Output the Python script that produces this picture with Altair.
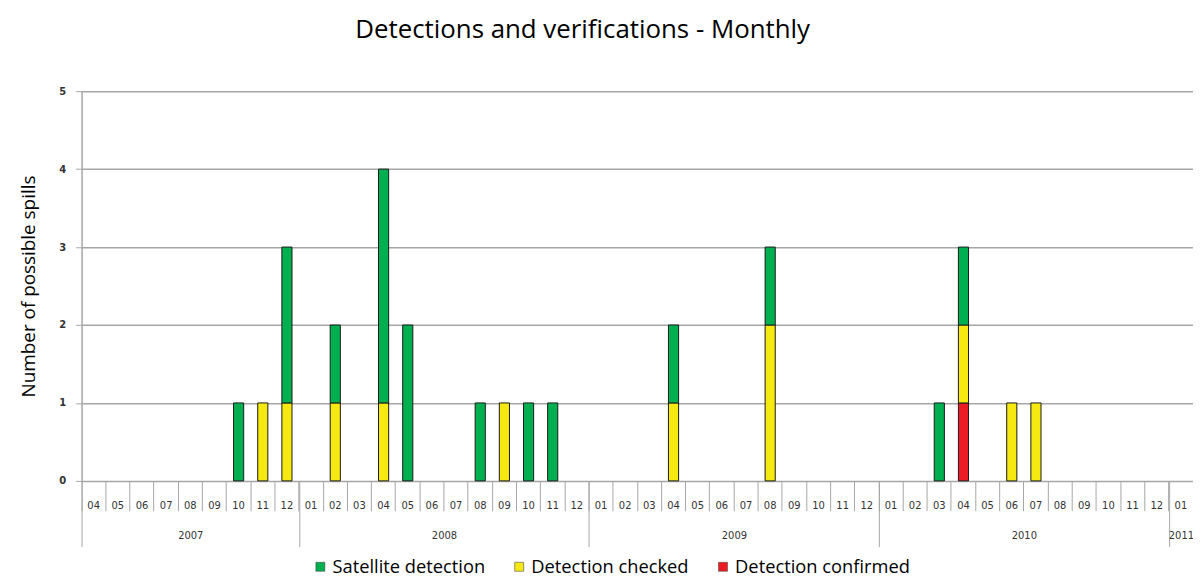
import altair as alt
import pandas as pd

# ---------------- data ----------------
years = ["2007", "2008", "2009", "2010", "2011"]
months_2007 = ["04", "05", "06", "07", "08", "09", "10", "11", "12"]
months_full = ["01", "02", "03", "04", "05", "06", "07", "08", "09", "10", "11", "12"]
months_2011 = ["01"]
year_months = [months_2007, months_full, months_full, months_full, months_2011]

series_names = ["Satellite detection", "Detection checked", "Detection confirmed"]
series_colors = ["#00b050", "#f5e911", "#ed1c24"]

satellite_2007 = [0, 0, 0, 0, 0, 0, 1, 0, 2]
satellite_2008 = [0, 1, 0, 3, 2, 0, 0, 1, 0, 1, 1, 0]
satellite_2009 = [0, 0, 0, 1, 0, 0, 0, 1, 0, 0, 0, 0]
satellite_2010 = [0, 0, 1, 1, 0, 0, 0, 0, 0, 0, 0, 0]
satellite_2011 = [0]

checked_2007 = [0, 0, 0, 0, 0, 0, 0, 1, 1]
checked_2008 = [0, 1, 0, 1, 0, 0, 0, 0, 1, 0, 0, 0]
checked_2009 = [0, 0, 0, 1, 0, 0, 0, 2, 0, 0, 0, 0]
checked_2010 = [0, 0, 0, 1, 0, 1, 1, 0, 0, 0, 0, 0]
checked_2011 = [0]

confirmed_2007 = [0, 0, 0, 0, 0, 0, 0, 0, 0]
confirmed_2008 = [0, 0, 0, 0, 0, 0, 0, 0, 0, 0, 0, 0]
confirmed_2009 = [0, 0, 0, 0, 0, 0, 0, 0, 0, 0, 0, 0]
confirmed_2010 = [0, 0, 0, 1, 0, 0, 0, 0, 0, 0, 0, 0]
confirmed_2011 = [0]

y_ticks = [0, 1, 2, 3, 4, 5]

# ---------------- tables ----------------
satellite = satellite_2007 + satellite_2008 + satellite_2009 + satellite_2010 + satellite_2011
checked = checked_2007 + checked_2008 + checked_2009 + checked_2010 + checked_2011
confirmed = confirmed_2007 + confirmed_2008 + confirmed_2009 + confirmed_2010 + confirmed_2011

months = []
year_starts = []
for y, ms in zip(years, year_months):
    year_starts.append(len(months))
    for m in ms:
        months.append(f"{y}-{m}")
n_months = len(months)
year_ends = year_starts[1:] + [n_months]
year_mids = [(a + b) / 2 for a, b in zip(year_starts, year_ends)]

rows = []
for i, mo in enumerate(months):
    for k, (name, vals) in enumerate(
        [("Detection confirmed", confirmed), ("Detection checked", checked), ("Satellite detection", satellite)]
    ):
        if vals[i] > 0:
            rows.append({"month": mo, "series": name, "count": vals[i], "stackpos": k})
df = pd.DataFrame(rows)

bounds_df = pd.DataFrame({"pos": year_starts})
mids_df = pd.DataFrame({"pos": year_mids})

year_expr = "''"
for y, a, b in reversed(list(zip(years, year_starts, year_ends))):
    year_expr = f"(datum.value >= {a} && datum.value <= {b}) ? '{y}' : {year_expr}"

W, H = 1118, 392
GRID = "#a6a6a6"

bars = alt.Chart(df).mark_bar(
    stroke="#1a1a1a", strokeWidth=1, width=alt.RelativeBandSize(0.42)
).encode(
    x=alt.X(
        "month:O",
        sort=months,
        scale=alt.Scale(domain=months, paddingInner=0, paddingOuter=0),
        axis=alt.Axis(
            title=None, orient="bottom", bandPosition=0,
            tickSize=30, tickColor=GRID, tickWidth=1, labelPadding=0, labelBaseline="bottom",
            labelExpr="slice(datum.value, 5)", labelAngle=0, labelFont="DejaVu Sans",
            labelFontSize=10, labelColor="#333333", domain=False, grid=False,
        ),
    ),
    y=alt.Y(
        "count:Q",
        stack="zero",
        scale=alt.Scale(domain=[0, 5], nice=False),
        axis=alt.Axis(
            title="Number of possible spills", values=y_ticks, grid=True, gridColor=GRID,
            gridWidth=1.5, domainColor=GRID, domainWidth=1.5, tickColor=GRID, tickSize=6,
            labelPadding=10, labelFont="DejaVu Sans", labelFontSize=10, labelFontWeight="bold",
            labelColor="#333333", titleFont="Open Sans", titleFontSize=19,
            titleFontWeight="normal", titleColor="#000000", titlePadding=20,
        ),
    ),
    color=alt.Color(
        "series:N",
        scale=alt.Scale(domain=series_names, range=series_colors),
        legend=alt.Legend(
            title=None, orient="none", direction="horizontal", legendX=231, legendY=469,
            symbolType="square", symbolSize=81, symbolStrokeColor="#333333",
            symbolStrokeWidth=0.5, labelFont="Open Sans", labelFontSize=18.4,
            labelColor="#000000", labelOffset=3, columnPadding=25, labelLimit=300,
        ),
    ),
    order=alt.Order("stackpos:Q"),
)

year_ticks = alt.Chart(bounds_df).mark_point(opacity=0).encode(
    x=alt.X(
        "pos:Q",
        scale=alt.Scale(domain=[0, n_months], nice=False, zero=False),
        axis=alt.Axis(
            title=None, orient="bottom", values=year_starts, labels=False, tickSize=66,
            tickColor=GRID, tickWidth=1, domain=False, grid=False,
        ),
    ),
)

year_labels = alt.Chart(mids_df).mark_point(opacity=0).encode(
    x=alt.X(
        "pos:Q",
        scale=alt.Scale(domain=[0, n_months], nice=False, zero=False),
        axis=alt.Axis(
            title=None, orient="bottom", values=year_mids, labelExpr=year_expr, tickSize=0,
            labelPadding=50, labelFlush=False, labelOverlap=False, labelFont="DejaVu Sans",
            labelFontSize=10, labelColor="#333333", domain=False, grid=False,
        ),
    ),
)

chart = (
    alt.layer(bars, year_ticks, year_labels)
    .resolve_scale(x="independent")
    .properties(
        width=W,
        height=H,
        autosize=alt.AutoSizeParams(type="none"),
        padding={"left": 74, "top": 82, "right": 0, "bottom": 95},
        title=alt.TitleParams(
            "Detections and verifications - Monthly", font="Open Sans", fontSize=26,
            fontWeight="normal", color="#000000", anchor="middle", dx=-55, offset=44,
        ),
    )
    .configure_view(strokeWidth=0)
)

chart.save("out.html", embed_options={"renderer": "svg", "actions": False})
